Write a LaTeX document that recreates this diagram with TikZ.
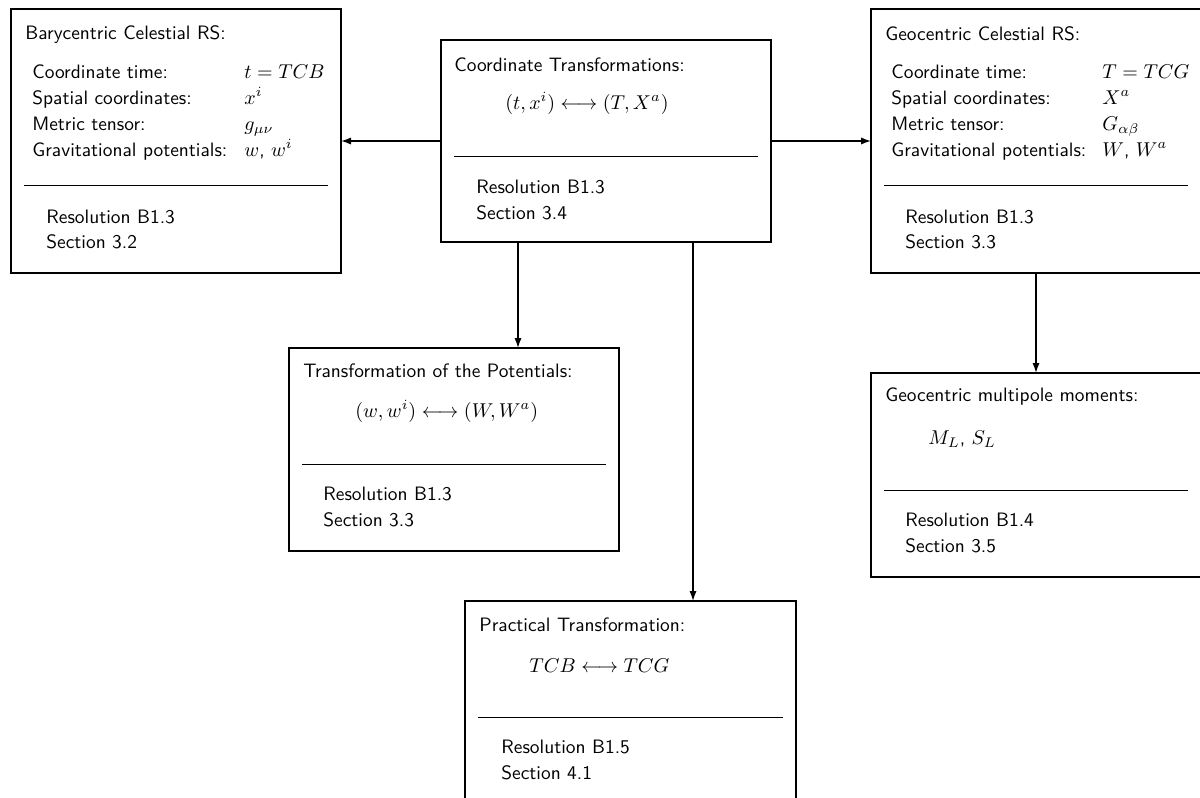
\documentclass[tikz,border=0pt]{standalone}
\usetikzlibrary{arrows.meta}
\begin{document}
\begin{tikzpicture}[x=0.5pt,y=-0.5pt,
  font=\sffamily\fontsize{9.7}{12}\selectfont,
  box/.style={draw, line width=1pt, rectangle, anchor=north west,
    minimum width=165pt, inner sep=0pt, outer sep=0pt},
  lbl/.style={anchor=base west, inner sep=0pt},
  sepline/.style={line width=0.5pt},
  arr/.style={line width=0.7pt, -{Latex[length=5pt,width=3.6pt]}}]
\useasboundingbox (0,0) rectangle (1200,798);

% Barycentric Celestial RS
\node[box, minimum height=132pt] (A) at (11,9) {};
\node[lbl] (At) at (25,39) {Barycentric Celestial RS:};
\node[lbl] (A1) at (32,78) {Coordinate time:};
\node[lbl] (A2) at (32,104) {Spatial coordinates:};
\node[lbl] (A3) at (32,130) {Metric tensor:};
\node[lbl] (A4) at (32,156) {Gravitational potentials:};
\node[lbl] (A1m) at (244,78) {$t=TCB$};
\node[lbl] (A2m) at (244,104) {$x^i$};
\node[lbl] (A3m) at (244,130) {$g_{\mu\nu}$};
\node[lbl] (A4m) at (244,156) {$w$, $w^i$};
\draw[sepline] (24,185) -- (328,185);
\node[lbl] (Ar) at (46,223) {Resolution B1.3};
\node[lbl] (As) at (46,248) {Section 3.2};

% Coordinate Transformations
\node[box, minimum height=101pt] (B) at (441,40) {};
\node[lbl] (Bt) at (454,71) {Coordinate Transformations:};
\node[lbl] (Bm) at (505,109) {$(t,x^i)\longleftrightarrow(T,X^a)$};
\draw[sepline] (454,156) -- (758,156);
\node[lbl] (Br) at (476,193) {Resolution B1.3};
\node[lbl] (Bs) at (476,219) {Section 3.4};

% Geocentric Celestial RS
\node[box, minimum height=132pt] (C) at (871,9) {};
\node[lbl] (Ct) at (885,40) {Geocentric Celestial RS:};
\node[lbl] (C1) at (891,78) {Coordinate time:};
\node[lbl] (C2) at (891,104) {Spatial coordinates:};
\node[lbl] (C3) at (891,130) {Metric tensor:};
\node[lbl] (C4) at (891,156) {Gravitational potentials:};
\node[lbl] (C1m) at (1102,78) {$T=TCG$};
\node[lbl] (C2m) at (1102,104) {$X^a$};
\node[lbl] (C3m) at (1102,130) {$G_{\alpha\beta}$};
\node[lbl] (C4m) at (1102,156) {$W$, $W^a$};
\draw[sepline] (884,185) -- (1188,185);
\node[lbl] (Cr) at (905,223) {Resolution B1.3};
\node[lbl] (Cs) at (905,248) {Section 3.3};

% Transformation of the Potentials
\node[box, minimum height=101.5pt] (D) at (289,348) {};
\node[lbl] (Dt) at (303,377) {Transformation of the Potentials:};
\node[lbl] (Dm) at (355,417) {$(w,w^i)\longleftrightarrow(W,W^a)$};
\draw[sepline] (302,464) -- (606,464);
\node[lbl] (Dr) at (323,500) {Resolution B1.3};
\node[lbl] (Ds) at (323,526) {Section 3.3};

% Geocentric multipole moments
\node[box, minimum height=102pt] (E) at (871,373) {};
\node[lbl] (Et) at (885,401) {Geocentric multipole moments:};
\node[lbl] (Em) at (928,444) {$M_L$, $S_L$};
\draw[sepline] (884,490) -- (1188,490);
\node[lbl] (Er) at (905,526) {Resolution B1.4};
\node[lbl] (Es) at (905,552) {Section 3.5};

% Practical Transformation
\node[box, minimum height=101pt, minimum width=165.5pt] (F) at (465,601) {};
\node[lbl] (Ft) at (479,631) {Practical Transformation:};
\node[lbl] (Fm) at (529,672) {$TCB\longleftrightarrow TCG$};
\draw[sepline] (478,717) -- (783,717);
\node[lbl] (Fr) at (501,753) {Resolution B1.5};
\node[lbl] (Fs) at (501,779) {Section 4.1};

% connectors
\draw[arr] (B.west) -- (A.east);
\draw[arr] (B.east) -- (C.west);
\draw[arr] ([xshift=38.5pt]B.south west) -- ([xshift=38.5pt]B.south west |- D.north);
\draw[arr] ([xshift=126pt]B.south west) -- ([xshift=126pt]B.south west |- F.north);
\draw[arr] (C.south) -- (E.north);
\end{tikzpicture}
\end{document}
